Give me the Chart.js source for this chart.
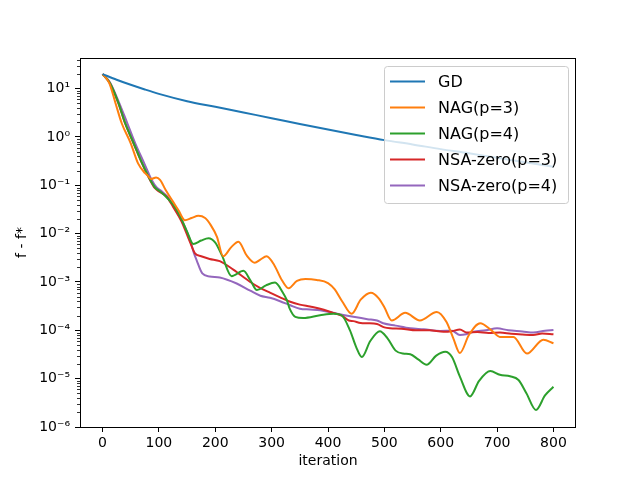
<!DOCTYPE html>
<html>
<head>
<meta charset="utf-8">
<title>f - f* vs iteration</title>
<script src="https://cdn.jsdelivr.net/npm/chart.js@4.4.1/dist/chart.umd.min.js"></script>
<style>
  html, body { margin: 0; padding: 0; background: #fff; }
  #wrap { width: 640px; height: 480px; }
</style>
</head>
<body>
<div id="wrap"><canvas id="chart" width="640" height="480"></canvas></div>
<script>
// values
var seriesLabels = ['GD', 'NAG(p=3)', 'NAG(p=4)', 'NSA-zero(p=3)', 'NSA-zero(p=4)'];
var seriesColors = ['#1f77b4', '#ff7f0e', '#2ca02c', '#d62728', '#9467bd'];

var gdIter = [0, 25, 50, 75, 100, 150, 200, 250, 300, 350, 400, 450, 500, 550, 600, 650, 700, 750, 800];
var gdVals = [20, 15.3, 12, 9.6, 7.8, 5.5, 4.2, 3.2, 2.45, 1.85, 1.42, 1.1, 0.86, 0.7, 0.56, 0.46, 0.37, 0.3, 0.242];

var nag3Iter = [0, 12, 23, 34, 50, 63, 75, 80, 86, 95, 102, 112, 125, 135, 146, 158, 170, 182, 192, 203, 214, 228, 241, 256, 270, 280, 291, 305, 318, 330, 345, 360, 380, 400, 412, 425, 442, 458, 476, 490, 500, 513, 537, 563, 593, 610, 622, 634, 650, 670, 690, 705, 729, 753, 782, 800];
var nag3Vals = [20, 13, 5.0, 1.92, 0.74, 0.285, 0.18, 0.16, 0.135, 0.145, 0.13, 0.08, 0.046, 0.03, 0.019, 0.021, 0.0234, 0.021, 0.015, 0.0086, 0.0034, 0.0052, 0.0068, 0.0035, 0.0025, 0.0029, 0.0034, 0.0022, 0.0011, 7.4e-4, 1.05e-3, 1.15e-3, 1.1e-3, 9.5e-4, 7e-4, 4e-4, 2.2e-4, 4.3e-4, 6e-4, 4.6e-4, 3e-4, 1.6e-4, 2.3e-4, 1.6e-4, 2.4e-4, 1.5e-4, 7e-5, 3.4e-5, 8e-5, 1.4e-4, 1.0e-4, 7.3e-5, 7.3e-5, 3.3e-5, 6.4e-5, 5.4e-5];

var nag4Iter = [0, 13, 28, 40, 55, 70, 84, 93, 100, 110, 125, 140, 150, 161, 175, 188, 200, 212, 229, 250, 262, 274, 290, 306, 320, 327, 332, 342, 356, 386, 410, 424, 439, 450, 460, 475, 492, 505, 520, 533, 546, 560, 575, 592, 608, 620, 634, 652, 668, 688, 705, 723, 738, 752, 769, 785, 800];
var nag4Vals = [20, 13, 5.1, 1.95, 0.75, 0.29, 0.133, 0.09, 0.078, 0.062, 0.04, 0.02, 0.011, 0.0061, 0.0072, 0.008, 0.0065, 0.0035, 0.00132, 0.0017, 0.0011, 6.8e-4, 8.5e-4, 9.7e-4, 6e-4, 4.2e-4, 2.8e-4, 1.9e-4, 1.8e-4, 2.05e-4, 2.2e-4, 2.05e-4, 1e-4, 4.5e-5, 2.8e-5, 6e-5, 9.6e-5, 7e-5, 3.8e-5, 3.3e-5, 3.2e-5, 2.5e-5, 1.95e-5, 3e-5, 3.6e-5, 2.8e-5, 1.1e-5, 4.3e-6, 9e-6, 1.44e-5, 1.2e-5, 1.12e-5, 9.4e-6, 5e-6, 2.25e-6, 4.5e-6, 6.8e-6];

var nsa3Iter = [0, 13, 28, 40, 55, 70, 84, 93, 100, 114, 125, 140, 149, 155, 164, 175, 190, 208, 232, 262, 280, 297, 315, 333, 350, 368, 386, 409, 425, 437, 445, 458, 470, 487, 500, 510, 530, 557, 580, 605, 620, 634, 646, 665, 685, 705, 725, 745, 764, 780, 800];
var nsa3Vals = [20, 12.9, 5.0, 1.92, 0.74, 0.285, 0.13, 0.087, 0.075, 0.058, 0.036, 0.018, 0.0101, 0.0068, 0.0039, 0.0034, 0.003, 0.0027, 0.0018, 0.001, 7.5e-4, 6e-4, 4.8e-4, 3.9e-4, 3.4e-4, 3.1e-4, 2.8e-4, 2.3e-4, 2.0e-4, 1.6e-4, 1.55e-4, 1.42e-4, 1.4e-4, 1.35e-4, 1.15e-4, 1.1e-4, 1.08e-4, 1.0e-4, 1.0e-4, 9.3e-5, 9.6e-5, 1.04e-4, 9e-5, 9.2e-5, 8.8e-5, 9e-5, 8.5e-5, 8.2e-5, 8e-5, 8.6e-5, 8.3e-5];

var nsa4Iter = [0, 13, 28, 44, 58, 74, 87, 96, 105, 115, 126, 140, 155, 162, 167, 177, 190, 208, 238, 262, 280, 297, 315, 333, 350, 368, 386, 409, 425, 445, 470, 487, 498, 520, 546, 570, 599, 620, 634, 645, 658, 680, 700, 720, 745, 764, 785, 800];
var nsa4Vals = [20, 13.5, 5.6, 1.92, 0.74, 0.285, 0.13, 0.09, 0.075, 0.058, 0.038, 0.02, 0.0075, 0.004, 0.0028, 0.0015, 0.0013, 0.00124, 9.3e-4, 6.6e-4, 5.2e-4, 4.7e-4, 4e-4, 3.3e-4, 2.8e-4, 2.7e-4, 2.6e-4, 2.3e-4, 2.1e-4, 1.9e-4, 1.7e-4, 1.6e-4, 1.4e-4, 1.25e-4, 1.1e-4, 1.05e-4, 9.7e-5, 9.8e-5, 8e-5, 8.3e-5, 9.3e-5, 1.0e-4, 1.1e-4, 1.0e-4, 9.5e-5, 9e-5, 9.8e-5, 1.02e-4];

var xTicks = [0, 100, 200, 300, 400, 500, 600, 700, 800];
var yTicks = [1e-6, 1e-5, 1e-4, 1e-3, 1e-2, 1e-1, 1, 10];
var yTickLabels = ['10\u207B\u2076', '10\u207B\u2075', '10\u207B\u2074', '10\u207B\u00B3', '10\u207B\u00B2', '10\u207B\u00B9', '10\u2070', '10\u00B9'];

var allIter = [gdIter, nag3Iter, nag4Iter, nsa3Iter, nsa4Iter];
var allVals = [gdVals, nag3Vals, nag4Vals, nsa3Vals, nsa4Vals];

function toPoints(xs, ys) {
  var pts = [];
  for (var i = 0; i < xs.length; i++) pts.push({x: xs[i], y: ys[i]});
  return pts;
}

var datasets = [];
for (var s = 0; s < seriesLabels.length; s++) {
  datasets.push({
    label: seriesLabels[s],
    data: toPoints(allIter[s], allVals[s]),
    borderColor: seriesColors[s],
    backgroundColor: seriesColors[s],
    borderWidth: 2,
    pointRadius: 0,
    fill: false,
    cubicInterpolationMode: 'monotone'
  });
}

// frame, minor log ticks and the legend box drawn on top
var extras = {
  id: 'extras',
  afterDatasetsDraw: function(chart) {
    var ctx = chart.ctx, a = chart.chartArea, ys = chart.scales.y;
    ctx.save();
    ctx.strokeStyle = '#000';
    ctx.lineWidth = 0.8;
    ctx.beginPath();
    for (var k = -6; k <= 1; k++) {
      for (var m = 2; m <= 9; m++) {
        var v = m * Math.pow(10, k);
        if (v > ys.max) continue;
        var py = Math.round(ys.getPixelForValue(v)) + 0.5;
        ctx.moveTo(a.left, py);
        ctx.lineTo(a.left - 3, py);
      }
    }
    ctx.stroke();

    ctx.lineWidth = 1;
    ctx.strokeRect(a.left + 0.5, a.top + 0.5, a.right - a.left - 1, a.bottom - a.top);

    var lx = 384.5, ly = 66.5, lw = 184, lh = 137;
    ctx.beginPath();
    if (ctx.roundRect) ctx.roundRect(lx, ly, lw, lh, 3);
    else ctx.rect(lx, ly, lw, lh);
    ctx.fillStyle = 'rgba(255,255,255,0.8)';
    ctx.fill();
    ctx.strokeStyle = '#cccccc';
    ctx.lineWidth = 1;
    ctx.stroke();

    ctx.font = '16px "DejaVu Sans"';
    ctx.textBaseline = 'middle';
    ctx.textAlign = 'left';
    chart.data.datasets.forEach(function(ds, i) {
      var cy = 81.5 + i * 26;
      ctx.strokeStyle = ds.borderColor;
      ctx.lineWidth = 2;
      ctx.beginPath();
      ctx.moveTo(390, cy);
      ctx.lineTo(425, cy);
      ctx.stroke();
      ctx.fillStyle = '#000';
      ctx.fillText(ds.label, 438, cy + 1);
    });
    ctx.restore();
  }
};

Chart.defaults.font.family = '"DejaVu Sans", sans-serif';
Chart.defaults.color = '#000';

var chart = new Chart(document.getElementById('chart'), {
  type: 'line',
  data: { datasets: datasets },
  plugins: [extras],
  options: {
    responsive: false,
    animation: false,
    layout: { padding: { left: 0, right: 64, top: 58, bottom: 0 } },
    plugins: { legend: { display: false }, tooltip: { enabled: false } },
    scales: {
      x: {
        type: 'linear',
        min: -40,
        max: 840,
        afterBuildTicks: function(scale) {
          scale.ticks = xTicks.map(function(v) { return {value: v}; });
        },
        afterFit: function(scale) { scale.height = 53; },
        grid: { display: true, drawOnChartArea: false, drawTicks: true, tickLength: 5, tickWidth: 1, color: '#000' },
        border: { display: false },
        ticks: { padding: 3, font: { size: 14 }, color: '#000', maxRotation: 0, autoSkip: false },
        title: { display: true, text: 'iteration', font: { size: 14 }, color: '#000', padding: { top: 0, bottom: 10 } }
      },
      y: {
        type: 'logarithmic',
        min: 1e-6,
        max: 43,
        afterBuildTicks: function(scale) {
          scale.ticks = yTicks.map(function(v) { return {value: v, major: true}; });
        },
        afterFit: function(scale) { scale.width = 80; },
        grid: { display: true, drawOnChartArea: false, drawTicks: true, tickLength: 5, tickWidth: 1, color: '#000' },
        border: { display: false },
        ticks: {
          padding: 5,
          font: { size: 14 },
          color: '#000',
          autoSkip: false,
          callback: function(value, index) { return yTickLabels[index]; }
        },
        title: { display: true, text: 'f - f*', font: { size: 14 }, color: '#000', padding: { top: 14, bottom: 0 } }
      }
    }
  }
});
</script>
</body>
</html>
